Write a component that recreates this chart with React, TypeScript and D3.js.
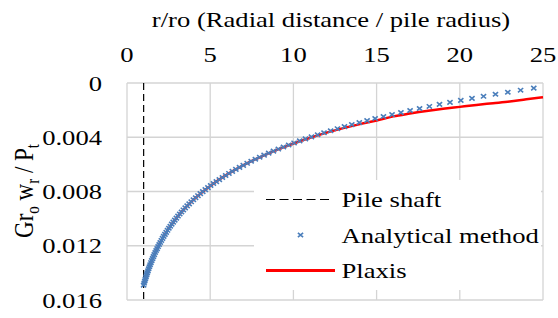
import React from "react";
import * as d3 from "d3";

// r/ro of the analytical points (log spaced)
const analyticalR = [
  1.0, 1.034, 1.068, 1.104, 1.141, 1.179, 1.218, 1.259, 1.301, 1.345,
  1.39, 1.437, 1.485, 1.535, 1.586, 1.639, 1.694, 1.751, 1.81, 1.87,
  1.933, 1.998, 2.065, 2.134, 2.205, 2.279, 2.356, 2.435, 2.516, 2.6,
  2.687, 2.778, 2.871, 2.967, 3.066, 3.169, 3.275, 3.385, 3.498, 3.615,
  3.736, 3.862, 3.991, 4.125, 4.263, 4.406, 4.553, 4.706, 4.863, 5.026,
  5.195, 5.369, 5.549, 5.734, 5.926, 6.125, 6.33, 6.542, 6.762, 6.988,
  7.223, 7.464, 7.714, 7.973, 8.24, 8.516, 8.801, 9.096, 9.401, 9.716,
  10.041, 10.378, 10.725, 11.085, 11.456, 11.84, 12.237, 12.647, 13.07, 13.508,
  13.961, 14.429, 14.912, 15.412, 15.928, 16.461, 17.013, 17.583, 18.172, 18.78,
  19.41, 20.06, 20.732, 21.426, 22.144, 22.886, 23.653, 24.445,
];

// Gr0 wr / Pt of the analytical points
const analyticalW = [
  0.0149, 0.01475, 0.0146, 0.01445, 0.0143, 0.01415, 0.014, 0.01385, 0.0137, 0.01355,
  0.0134, 0.01325, 0.0131, 0.01295, 0.0128, 0.01265, 0.0125, 0.01235, 0.01221, 0.01206,
  0.01191, 0.01176, 0.01161, 0.01146, 0.01131, 0.01116, 0.01101, 0.01086, 0.01071, 0.01056,
  0.01041, 0.01026, 0.01011, 0.00996, 0.00981, 0.00966, 0.00951, 0.00936, 0.00921, 0.00906,
  0.00891, 0.00876, 0.00861, 0.00846, 0.00831, 0.00816, 0.00801, 0.00786, 0.00771, 0.00756,
  0.00741, 0.00727, 0.00712, 0.00697, 0.00682, 0.00667, 0.00652, 0.00637, 0.00622, 0.00607,
  0.00592, 0.00577, 0.00562, 0.00547, 0.00532, 0.00517, 0.00502, 0.00487, 0.00472, 0.00457,
  0.00442, 0.00427, 0.00412, 0.00397, 0.00382, 0.00367, 0.00352, 0.00337, 0.00322, 0.00307,
  0.00292, 0.00277, 0.00262, 0.00247, 0.00233, 0.00218, 0.00203, 0.00188, 0.00173, 0.00158,
  0.00143, 0.00128, 0.00113, 0.00098, 0.00083, 0.00068, 0.00053, 0.00038,
];

const plaxisR = [1, 1.25, 1.5, 2, 2.5, 3, 4, 5, 6, 7, 8, 9, 10, 11, 12, 13, 14, 15, 16, 17, 18, 19, 20, 21, 22, 23, 24, 25];
const plaxisW = [
  0.0149, 0.0139, 0.01306, 0.01175, 0.01074, 0.00991, 0.0086, 0.00759, 0.00676, 0.00606,
  0.00546, 0.00493, 0.00446, 0.00404, 0.00366, 0.00333, 0.00303, 0.00276, 0.00246, 0.00225,
  0.00206, 0.0019, 0.00176, 0.00162, 0.00149, 0.00136, 0.0012, 0.00105,
];

const pileShaftR = 1;

const xTicks = [0, 5, 10, 15, 20, 25];
const yTicks = [0, 0.004, 0.008, 0.012, 0.016];
const yTickLabels = ["0", "0.004", "0.008", "0.012", "0.016"];

const legendLabels = ["Pile shaft", "Analytical method", "Plaxis"];

const FONT = "'Liberation Serif', 'Times New Roman', serif";
const SX = 1.21; // the picture is stretched sideways

export default function App() {
  const width = 558;
  const height = 318;
  const plot = { left: 127, right: 543, top: 83, bottom: 300 };

  const x = d3.scaleLinear().domain([0, 25]).range([plot.left, plot.right]);
  const y = d3.scaleLinear().domain([0, 0.016]).range([plot.top, plot.bottom]);

  const line = d3
    .line<number>()
    .x((d, i) => x(plaxisR[i]))
    .y((d) => y(d))
    .curve(d3.curveMonotoneX);

  const gridColor = "#d4d4d4";
  const blue = "#4a7ebb";
  const xMark = "M-2.6,-2.2L2.6,2.2M-2.6,2.2L2.6,-2.2";

  const lg = { left: 254, top: 180, right: 541, bottom: 290 };

  return (
    <svg
      width={width}
      height={height}
      style={{ position: "absolute", left: 0, top: 0, background: "#fff" }}
      fontFamily={FONT}
    >
      {/* grid */}
      {xTicks.map((t) => (
        <line key={"gx" + t} x1={x(t)} x2={x(t)} y1={plot.top} y2={plot.bottom} stroke={gridColor} strokeWidth={1.3} />
      ))}
      {yTicks.map((t) => (
        <line key={"gy" + t} x1={plot.left} x2={plot.right} y1={y(t)} y2={y(t)} stroke={gridColor} strokeWidth={1.3} />
      ))}

      {/* x tick labels on top */}
      {xTicks.map((t) => (
        <text key={"tx" + t} transform={`translate(${x(t)},61.5) scale(${SX},1)`} textAnchor="middle" fontSize={22} fill="#000">
          {t}
        </text>
      ))}
      {yTicks.map((t, i) => (
        <text key={"ty" + t} transform={`translate(102,${y(t) + 7.5}) scale(${SX},1)`} textAnchor="end" fontSize={22} fill="#000">
          {yTickLabels[i]}
        </text>
      ))}

      {/* axis titles */}
      <text transform={`translate(331,27) scale(${SX},1)`} textAnchor="middle" fontSize={22} fill="#000">
        r/ro (Radial distance / pile radius)
      </text>
      <text transform={`translate(33,191) scale(${SX},1) rotate(-90)`} textAnchor="middle" fontSize={23} fill="#000">
        Gr<tspan dy={5} fontSize={15}>o</tspan>
        <tspan dy={-5}> w</tspan>
        <tspan dy={5} fontSize={15}>r</tspan>
        <tspan dy={-5}> / P</tspan>
        <tspan dy={5} fontSize={15}>t</tspan>
      </text>

      {/* pile shaft */}
      <line x1={x(pileShaftR)} x2={x(pileShaftR)} y1={plot.top} y2={plot.bottom} stroke="#000" strokeWidth={1.2} strokeDasharray="7,4" />

      {/* plaxis */}
      <path d={line(plaxisW) ?? ""} fill="none" stroke="#ff0000" strokeWidth={2.5} />

      {/* analytical */}
      {analyticalR.map((r, i) => (
        <path key={"m" + i} d={xMark} transform={`translate(${x(r)},${y(analyticalW[i])})`} stroke={blue} strokeWidth={1.6} fill="none" />
      ))}

      {/* legend */}
      <rect x={lg.left} y={lg.top} width={lg.right - lg.left} height={lg.bottom - lg.top} fill="#fff" />
      <line x1={266} x2={332} y1={199.5} y2={199.5} stroke="#000" strokeWidth={1.2} strokeDasharray="9,4.5" />
      <path d={xMark} transform="translate(300.5,235)" stroke={blue} strokeWidth={1.6} fill="none" />
      <line x1={266} x2={335} y1={270.5} y2={270.5} stroke="#ff0000" strokeWidth={3} />
      {legendLabels.map((l, i) => (
        <text key={l} transform={`translate(341.5,${207 + i * 35.7}) scale(${SX},1)`} fontSize={22} fill="#000">
          {l}
        </text>
      ))}
    </svg>
  );
}
